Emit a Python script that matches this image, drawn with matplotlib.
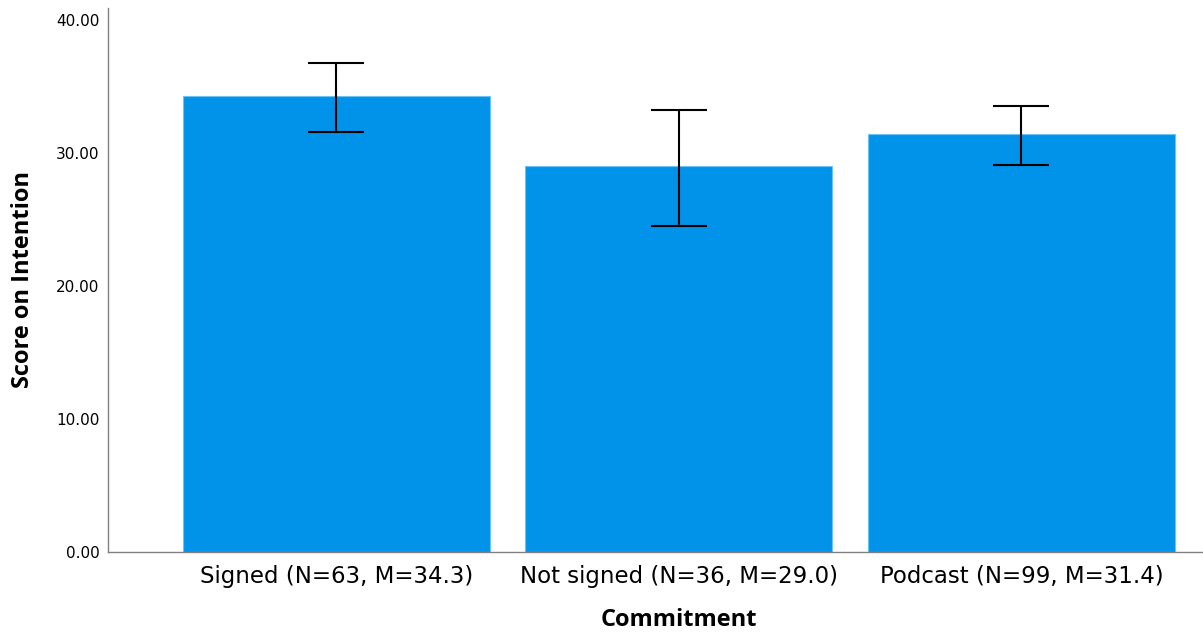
import matplotlib
matplotlib.use("Agg")
import matplotlib.pyplot as plt
import matplotlib.transforms as mtransforms
import numpy as np

# Mean intention score per commitment group, with 95% CI bounds
groups = ["Signed", "Not signed", "Podcast"]
n_sizes = [63, 36, 99]
means = [34.3, 29.0, 31.4]
ci_upper = [36.8, 33.2, 33.5]
ci_lower = [31.6, 24.5, 29.1]
y_ticks = [0, 10, 20, 30, 40]

labels = [f"{g} (N={n}, M={m:.1f})" for g, n, m in zip(groups, n_sizes, means)]

W, H = 1203, 636
fig = plt.figure(figsize=(W / 100, H / 100), dpi=100)
ax = fig.add_axes([108 / W, (H - 552) / H, (W - 108) / W, (552 - 8) / H])

x = np.arange(len(groups))
ax.bar(x, means, width=0.895, color="#0093E9", edgecolor="#6cc3f5", linewidth=0.8, zorder=2)

yerr = np.array([[m - lo for m, lo in zip(means, ci_lower)],
                 [hi - m for m, hi in zip(means, ci_upper)]])
ax.errorbar(x, means, yerr=yerr, fmt="none", ecolor="black", elinewidth=1.5,
            capsize=20.5, capthick=1.5, zorder=3)

ax.set_xlim(-0.666, 2.53)
ax.set_ylim(0, 40.9)
ax.set_yticks(y_ticks)
ax.set_yticklabels([f"{v:.2f}" for v in y_ticks], fontsize=11, family="DejaVu Sans")
# nudge the value labels slightly below their gridline positions
shift = mtransforms.ScaledTranslation(0, -2.5 / 100, fig.dpi_scale_trans)
for lbl in ax.get_yticklabels():
    lbl.set_transform(lbl.get_transform() + shift)
ax.set_xticks(x)
ax.set_xticklabels(labels, fontsize=16.5, family="DejaVu Sans")
ax.tick_params(axis="both", length=0, pad=6)
ax.tick_params(axis="x", pad=9)

for side in ("top", "right"):
    ax.spines[side].set_visible(False)
for side in ("left", "bottom"):
    ax.spines[side].set_color("#808080")
    ax.spines[side].set_linewidth(1.0)

ax.set_ylabel("Score on Intention", fontsize=17, fontweight="bold", family="Open Sans")
ax.set_xlabel("Commitment", fontsize=17, fontweight="bold", family="Open Sans")
ax.yaxis.set_label_coords(-73 / (W - 108), 0.5)
# centre the axis title under the middle category
mid = (1 - ax.get_xlim()[0]) / (ax.get_xlim()[1] - ax.get_xlim()[0])
ax.xaxis.set_label_coords(mid, -56 / (552 - 8))

fig.savefig("out.png", dpi=100, facecolor="white")
